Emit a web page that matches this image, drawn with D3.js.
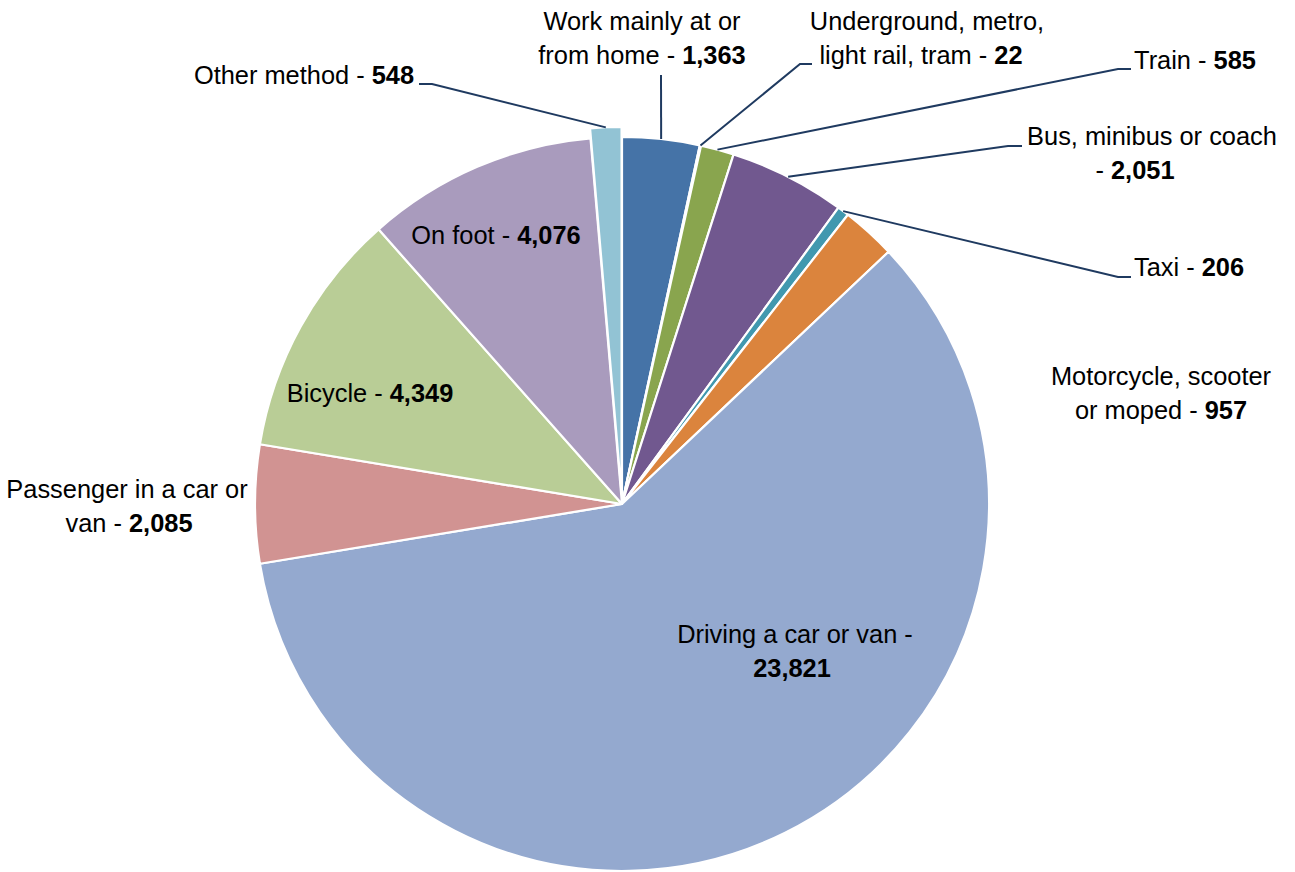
<!DOCTYPE html>
<html>
<head>
<meta charset="utf-8">
<script src="https://cdn.jsdelivr.net/npm/d3@7"></script>
<style>
  html, body { margin: 0; padding: 0; background: #ffffff; }
  svg { display: block; }
  text { font-family: "Liberation Sans", Arial, sans-serif; font-size: 25.4px; fill: #000000; }
</style>
</head>
<body>
<svg id="chart" width="1295" height="872"></svg>
<script>
// ---- data ----
const categories = [
  "Work mainly at or from home",
  "Underground, metro, light rail, tram",
  "Train",
  "Bus, minibus or coach",
  "Taxi",
  "Motorcycle, scooter or moped",
  "Driving a car or van",
  "Passenger in a car or van",
  "Bicycle",
  "On foot",
  "Other method"
];
const values = [1363, 22, 585, 2051, 206, 957, 23821, 2085, 4349, 4076, 548];

// ---- styles / layout (kept separate from the data) ----
const colors = ["#4573A7", "#AA4643", "#89A54E", "#71588F", "#4198AF", "#DB843D",
                "#94A9CF", "#D19392", "#B9CD96", "#A99BBD", "#92C3D4"];
const exploded = { "Other method": 10 };
const labelLayout = {
  "Work mainly at or from home":          { lines: ["Work mainly at or", "from home - {v}"], cx: [642, 642], y: 30, leader: [[661, 75]] },
  "Underground, metro, light rail, tram": { lines: ["Underground, metro,", "light rail, tram - {v}"], cx: [927, 921], y: 30, leader: [[800, 64], [812, 64]] },
  "Train":                                { lines: ["Train - {v}"], cx: [1195], y: 69, leader: [[1118, 69], [1131, 69]] },
  "Bus, minibus or coach":                { lines: ["Bus, minibus or coach", "- {v}"], cx: [1152, 1135], y: 145, leader: [[1008, 146], [1022, 146]] },
  "Taxi":                                 { lines: ["Taxi - {v}"], cx: [1189], y: 276, leader: [[1118, 277], [1131, 277]] },
  "Motorcycle, scooter or moped":         { lines: ["Motorcycle, scooter", "or moped - {v}"], cx: [1161, 1161], y: 385, leader: null },
  "Driving a car or van":                 { lines: ["Driving a car or van -", "{v}"], cx: [795, 792], y: 643, leader: null },
  "Passenger in a car or van":            { lines: ["Passenger in a car or", "van - {v}"], cx: [127, 129], y: 498, leader: null },
  "Bicycle":                              { lines: ["Bicycle - {v}"], cx: [370], y: 402, leader: null },
  "On foot":                              { lines: ["On foot - {v}"], cx: [496], y: 244, leader: null },
  "Other method":                         { lines: ["Other method - {v}"], cx: [304], y: 84, leader: [[432, 84], [419, 84]] }
};
const lineHeight = 34;

// ---- chart ----
const svg = d3.select("#chart");
const cx = 622, cy = 504, radius = 367;
const fmt = d3.format(",");

const data = categories.map((c, i) => ({ category: c, value: values[i], color: colors[i] }));
const pie = d3.pie().sort(null).value(d => d.value).startAngle(0).endAngle(2 * Math.PI);
const arcs = pie(data);
const arc = d3.arc().innerRadius(0).outerRadius(radius);

const g = svg.append("g").attr("transform", `translate(${cx},${cy})`);

function offsetOf(d) {
  const off = exploded[d.data.category] || 0;
  const mid = (d.startAngle + d.endAngle) / 2;
  return [Math.sin(mid) * off, -Math.cos(mid) * off];
}

g.selectAll("path.slice")
  .data(arcs)
  .join("path")
  .attr("class", "slice")
  .attr("d", arc)
  .attr("transform", d => { const o = offsetOf(d); return `translate(${o[0]},${o[1]})`; })
  .attr("fill", d => d.data.color)
  .attr("stroke", "#ffffff")
  .attr("stroke-width", 2.2)
  .attr("stroke-linejoin", "round");

// leader lines
const leaderLine = d3.line();
arcs.forEach(d => {
  const lay = labelLayout[d.data.category];
  if (!lay || !lay.leader) return;
  const mid = (d.startAngle + d.endAngle) / 2;
  const o = offsetOf(d);
  const start = [cx + o[0] + Math.sin(mid) * radius, cy + o[1] - Math.cos(mid) * radius];
  svg.append("path")
    .attr("d", leaderLine([start, ...lay.leader]))
    .attr("fill", "none")
    .attr("stroke", "#1F3A60")
    .attr("stroke-width", 2);
});

// labels
arcs.forEach(d => {
  const lay = labelLayout[d.data.category];
  lay.lines.forEach((ln, li) => {
    const parts = ln.split("{v}");
    const t = svg.append("text")
      .attr("x", lay.cx[li])
      .attr("y", lay.y + li * lineHeight)
      .attr("text-anchor", "middle");
    if (parts[0]) t.append("tspan").text(parts[0]);
    if (parts.length > 1) {
      t.append("tspan").attr("font-weight", "bold").text(fmt(d.data.value));
      if (parts[1]) t.append("tspan").text(parts[1]);
    }
  });
});
</script>
</body>
</html>
